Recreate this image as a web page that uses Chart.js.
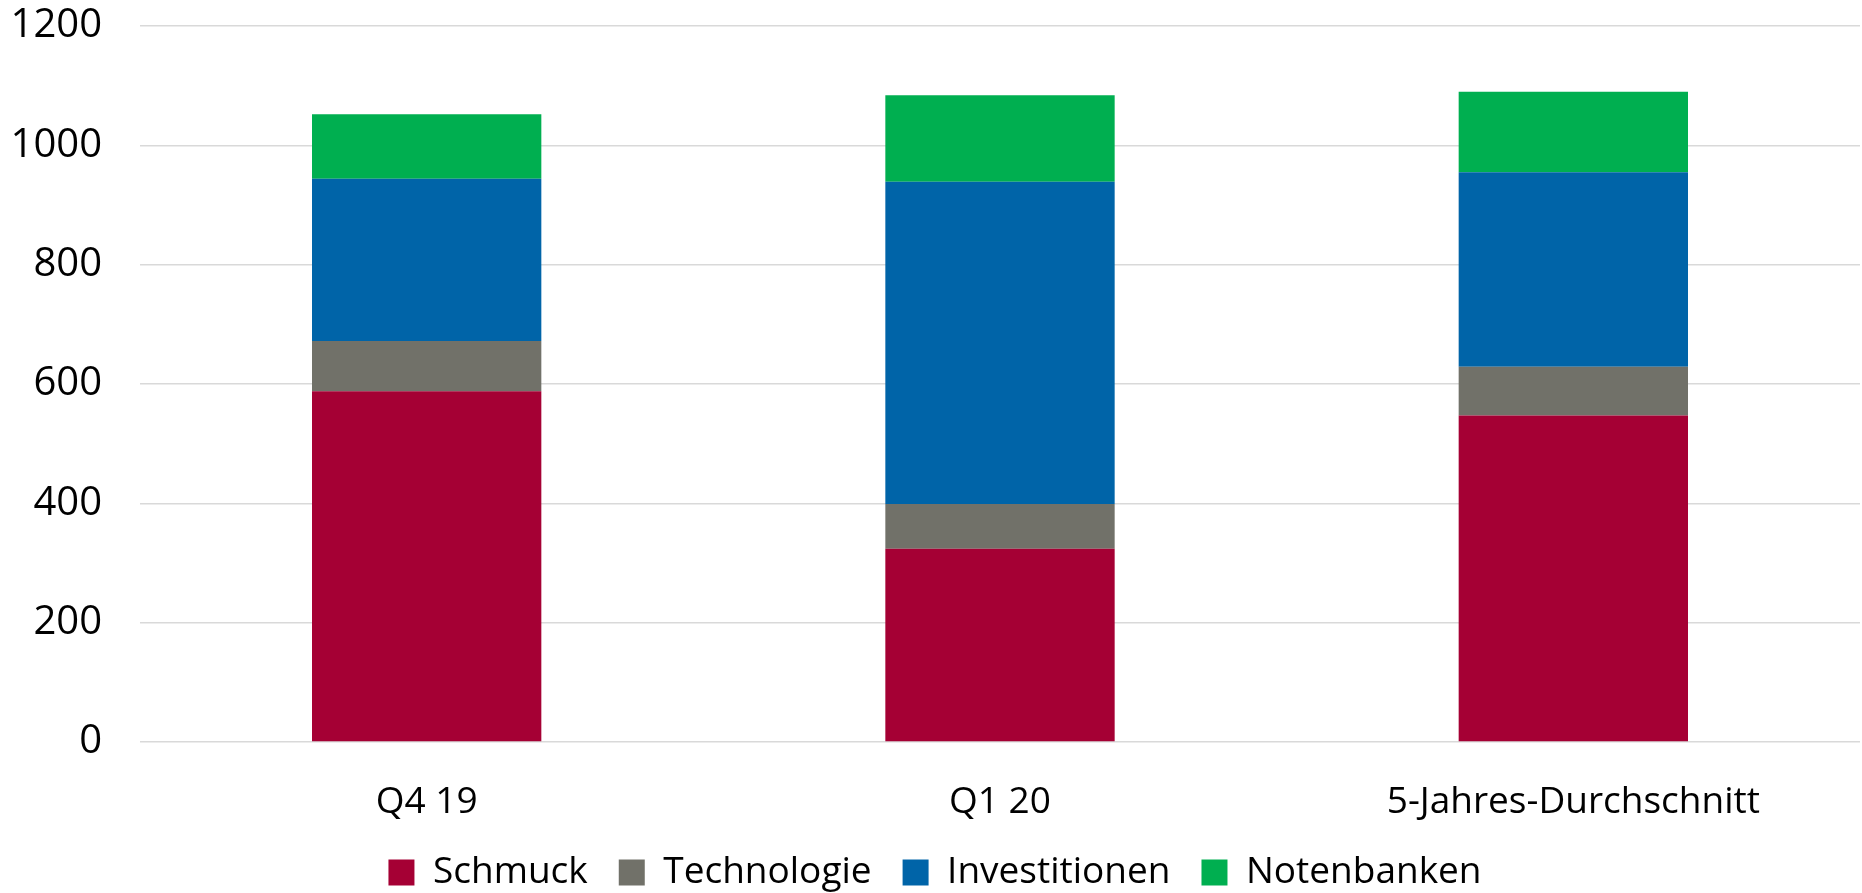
<!DOCTYPE html>
<html>
<head>
<meta charset="utf-8">
<script src="https://cdn.jsdelivr.net/npm/chart.js@4/dist/chart.umd.min.js"></script>
<style>
    html, body { margin: 0; padding: 0; background: #fff; }
    #wrap { width: 1862px; height: 893px; }
</style>
</head>
<body>
<div id="wrap"><canvas id="chart-gold"></canvas></div>
<script>
( function () {
    'use strict';

    var categories    = [ 'Q4 19', 'Q1 20', '5-Jahres-Durchschnitt' ];
    var schmuck       = [ 588, 324, 547 ];
    var technologie   = [ 84, 75, 82 ];
    var investitionen = [ 272, 540, 326 ];
    var notenbanken   = [ 108, 145, 135 ];

    var fontFamily = '"Open Sans", sans-serif';

    function series( label, values, color ) {
        return {
            label:           label,
            data:            values,
            backgroundColor: color,
            borderWidth:     0,
            categoryPercentage: 1,
            barPercentage:   0.4,
        };
    }

    new Chart( document.getElementById( 'chart-gold' ), {
        type: 'bar',
        data: {
            labels:   categories,
            datasets: [
                series( 'Schmuck',       schmuck,       '#a50034' ),
                series( 'Technologie',   technologie,   '#717169' ),
                series( 'Investitionen', investitionen, '#0064a8' ),
                series( 'Notenbanken',   notenbanken,   '#00af50' ),
            ],
        },
        options: {
            responsive:          true,
            maintainAspectRatio: false,
            animation:           false,
            layout: { padding: { top: 26, right: 2, bottom: -8, left: 10 } },
            plugins: {
                legend: {
                    position: 'bottom',
                    labels: {
                        boxWidth:  26,
                        boxHeight: 26,
                        padding:   31,
                        color:     '#000',
                        font:      { family: fontFamily, size: 37 },
                    },
                },
                tooltip: { enabled: false },
            },
            scales: {
                x: {
                    stacked: true,
                    grid:    { display: false },
                    border:  { display: false },
                    ticks:   { color: '#000', padding: 30, font: { family: fontFamily, size: 37 } },
                    // the x axis band sits between the plot and the legend
                    afterFit: function ( scale ) { scale.height = 81; },
                },
                y: {
                    stacked: true,
                    min: 0,
                    max: 1200,
                    grid:   { color: '#d9d9d9', lineWidth: 1.5, drawTicks: false },
                    border: { display: false },
                    ticks:  {
                        stepSize: 200,
                        color:    '#000',
                        padding:  38,
                        font:     { family: fontFamily, size: 40 },
                        callback: function ( v ) { return String( v ); },
                    },
                    afterFit: function ( scale ) {
                        scale.width = 130;
                        scale.paddingTop = 0;
                        scale.paddingBottom = 0;
                    },
                },
            },
        },
    } );
} )();
</script>
</body>
</html>
